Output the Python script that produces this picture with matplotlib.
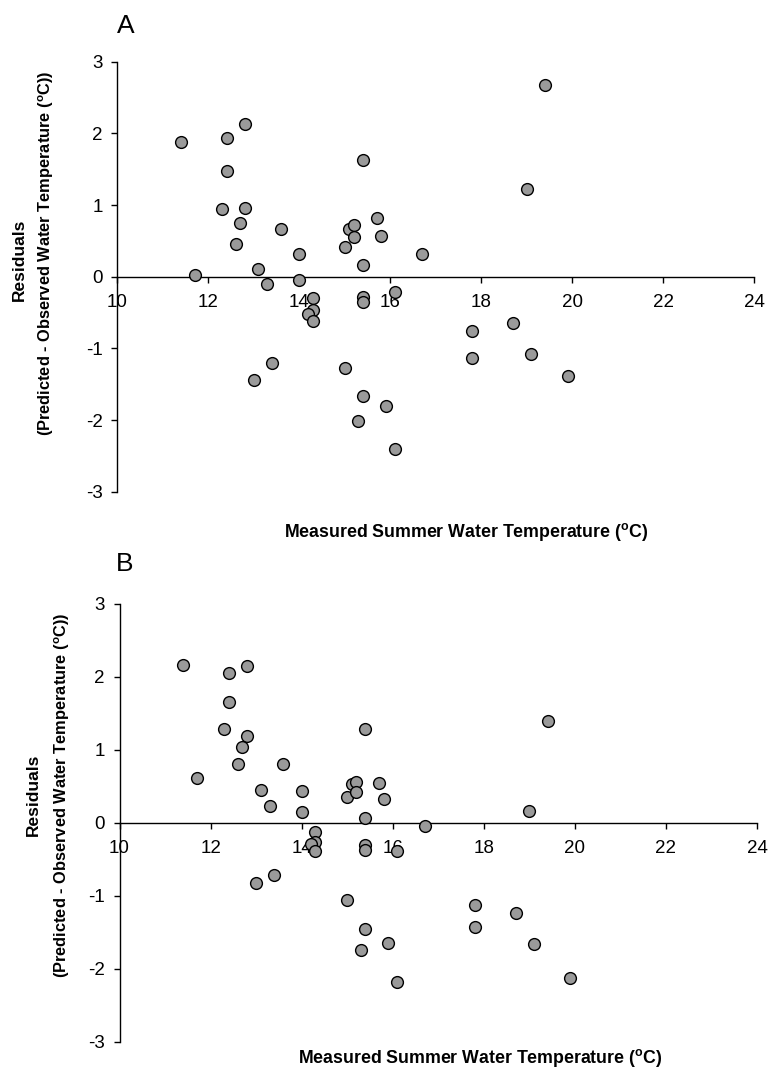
import numpy as np
import matplotlib
matplotlib.use("Agg")
import matplotlib.pyplot as plt

plt.rcParams['font.family'] = ['Liberation Sans', 'DejaVu Sans']
plt.rcParams['mathtext.fontset'] = 'custom'
plt.rcParams['mathtext.rm'] = 'Liberation Sans'
plt.rcParams['mathtext.bf'] = 'Liberation Sans:bold'
plt.rcParams['axes.unicode_minus'] = False

# measured summer water temperature (same sites in both panels)
measured_temp = [11.4, 11.7, 12.3, 12.4, 12.4, 12.8, 12.8, 12.7, 12.6, 13.1,
                 13.3, 13.6, 13.0, 13.4, 14.0, 14.0, 14.3, 14.3, 14.2, 14.3,
                 15.0, 15.1, 15.2, 15.2, 15.4, 15.4, 15.4, 15.4, 15.0, 15.4,
                 15.3, 15.7, 15.8, 15.9, 16.1, 16.1, 16.7, 19.0, 19.4, 17.8,
                 17.8, 18.7, 19.1, 19.9]

# residuals (predicted - observed), panel A
resid_a = [1.88, 0.02, 0.95, 1.93, 1.47, 2.13, 0.96, 0.75, 0.46, 0.11,
           -0.10, 0.67, -1.44, -1.20, 0.32, -0.04, -0.30, -0.47, -0.52, -0.62,
           0.41, 0.66, 0.72, 0.55, 1.63, 0.17, -0.28, -0.35, -1.28, -1.67,
           -2.01, 0.82, 0.57, -1.80, -0.22, -2.40, 0.32, 1.22, 2.68, -0.76,
           -1.13, -0.65, -1.08, -1.38]

# residuals (predicted - observed), panel B
resid_b = [2.16, 0.62, 1.28, 2.06, 1.66, 2.15, 1.19, 1.04, 0.80, 0.45,
           0.23, 0.81, -0.83, -0.72, 0.44, 0.15, -0.13, -0.26, -0.29, -0.39,
           0.35, 0.53, 0.56, 0.42, 1.29, 0.06, -0.30, -0.37, -1.06, -1.45,
           -1.74, 0.54, 0.33, -1.65, -0.38, -2.18, -0.04, 0.16, 1.39, -1.12,
           -1.43, -1.23, -1.66, -2.12]

x_ticks = [10, 12, 14, 16, 18, 20, 22, 24]
y_ticks = [-3, -2, -1, 0, 1, 2, 3]

W, H = 768, 1070
fig = plt.figure(figsize=(W / 100, H / 100), dpi=100)


def fx(px):
    return px / W


def fy(py):
    return 1 - py / H


def residual_panel(rect, resid):
    ax = fig.add_axes(rect)
    ax.scatter(measured_temp, resid, s=72, color='#9a9a9a', edgecolors='black',
               linewidths=1.0, zorder=3, clip_on=False)
    ax.set_xlim(10, 24)
    ax.set_ylim(-3, 3)
    ax.set_xticks(x_ticks)
    ax.set_yticks(y_ticks)
    ax.spines['top'].set_visible(False)
    ax.spines['right'].set_visible(False)
    ax.spines['bottom'].set_position(('data', 0))
    for s in ['left', 'bottom']:
        ax.spines[s].set_linewidth(1.0)
    ax.tick_params(axis='both', direction='out', length=4.5, width=1.0, labelsize=13.5)
    ax.tick_params(axis='x', pad=8)
    ax.tick_params(axis='y', pad=6)
    return ax


ylab2 = r'(Predicted - Observed Water Temperature ($^{\mathbf{o}}$C))'
xlab = r'Measured Summer Water Temperature ($^{\mathbf{o}}$C)'

# panel A
residual_panel([fx(117.3), fy(491.7), fx(754.3) - fx(117.3), fy(61.7) - fy(491.7)], resid_a)
fig.text(fx(117), fy(26), 'A', fontsize=19, ha='left', va='center')
fig.text(fx(466), fy(532), xlab, fontsize=12.8, fontweight='bold', ha='center', va='center')
fig.text(fx(19), fy(260), 'Residuals', rotation=90, fontsize=12.5, fontweight='bold',
         ha='center', va='center')
fig.text(fx(46), fy(253), ylab2, rotation=90, fontsize=11.8, fontweight='bold',
         ha='center', va='center')

# panel B
residual_panel([fx(119.5), fy(1041.7), fx(757) - fx(119.5), fy(604) - fy(1041.7)], resid_b)
fig.text(fx(116), fy(564), 'B', fontsize=19, ha='left', va='center')
fig.text(fx(480), fy(1058), xlab, fontsize=12.8, fontweight='bold', ha='center', va='center')
fig.text(fx(33), fy(795), 'Residuals', rotation=90, fontsize=12.5, fontweight='bold',
         ha='center', va='center')
fig.text(fx(62), fy(795), ylab2, rotation=90, fontsize=11.8, fontweight='bold',
         ha='center', va='center')

plt.savefig('out.png', dpi=100)
